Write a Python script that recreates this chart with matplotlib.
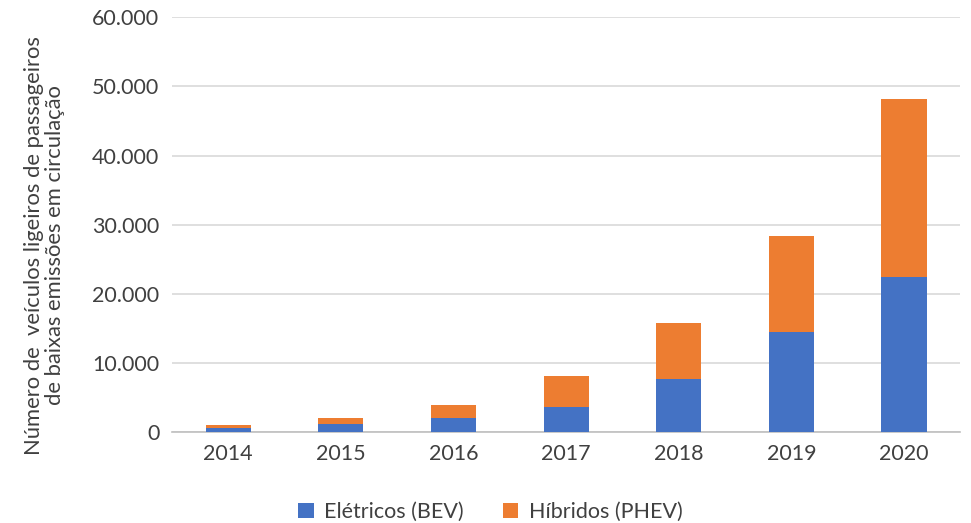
import matplotlib.pyplot as plt
import matplotlib.ticker as mticker

anos = ['2014', '2015', '2016', '2017', '2018', '2019', '2020']
eletricos_bev = [550, 1200, 2000, 3600, 7700, 14500, 22400]
hibridos_phev = [400, 850, 1900, 4500, 8100, 13900, 25800]

plt.rcParams['font.family'] = ['Lato', 'DejaVu Sans']

fig = plt.figure(figsize=(9.71, 5.23), dpi=100)
ax = fig.add_axes([0.177, 0.174, 0.812, 0.793])

ax.bar(anos, eletricos_bev, width=0.4, color='#4472C4', label='Elétricos (BEV)', zorder=3)
ax.bar(anos, hibridos_phev, width=0.4, bottom=eletricos_bev, color='#ED7D31',
       label='Híbridos (PHEV)', zorder=3)

ax.set_ylim(0, 60000)
ax.set_xlim(-0.5, 6.5)
ax.yaxis.set_major_locator(mticker.MultipleLocator(10000))
ax.yaxis.set_major_formatter(mticker.FuncFormatter(lambda v, p: f'{int(v):,}'.replace(',', '.')))
ax.grid(axis='y', color='#D9D9D9', linewidth=1.2, zorder=0)
for s in ['top', 'right', 'left']:
    ax.spines[s].set_visible(False)
ax.spines['bottom'].set_color('#BFBFBF')
ax.spines['bottom'].set_linewidth(1.2)
ax.tick_params(axis='both', length=0, labelsize=15.5, colors='#404040', pad=9)

ax.set_ylabel('Número de  veículos ligeiros de passageiros\nde baixas emissões em circulação',
              fontsize=15.8, color='#404040', labelpad=10, linespacing=1.1)
ax.yaxis.set_label_coords(-0.135, 0.45)

fig.legend(*ax.get_legend_handles_labels(), loc='lower center', bbox_to_anchor=(0.505, -0.035),
           ncol=2, frameon=False, fontsize=15.5, labelcolor='#404040',
           handlelength=0.7, handleheight=0.7, handletextpad=0.5, columnspacing=1.8)

fig.savefig('out.png', dpi=100)
